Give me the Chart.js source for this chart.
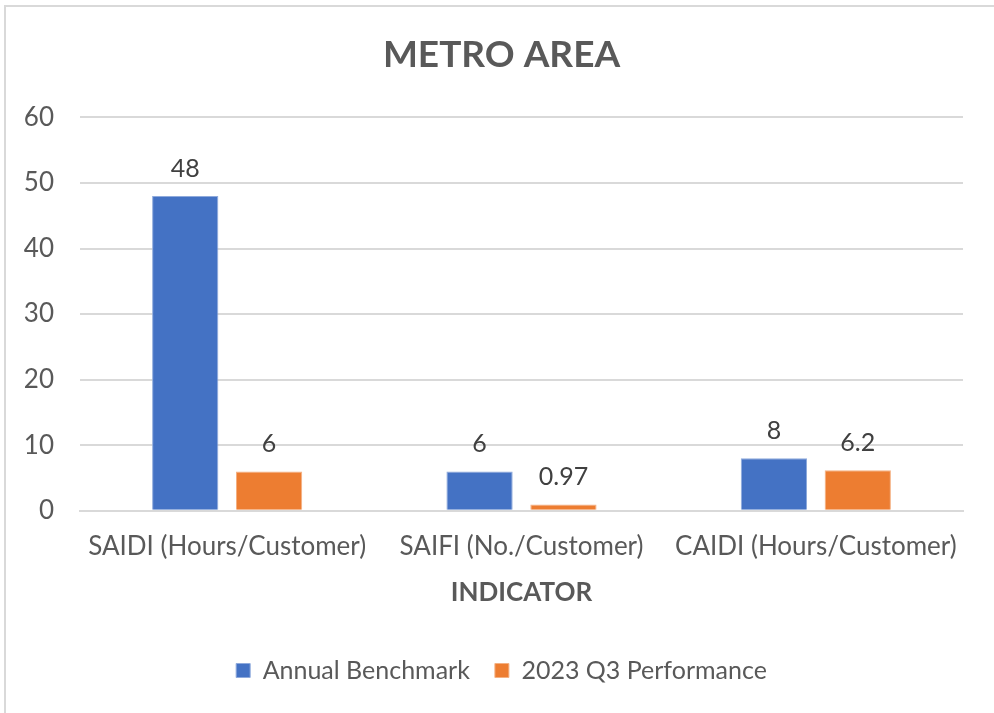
<!DOCTYPE html>
<html>
<head>
<meta charset="utf-8">
<script src="https://cdn.jsdelivr.net/npm/chart.js@4"></script>
<style>
  html, body { margin: 0; padding: 0; background: #fff; }
  #frame {
    position: absolute; left: 4px; top: 5px; width: 1000px; height: 720px;
    border-top: 2px solid #d9d9d9; border-left: 2px solid #d9d9d9;
  }
  #wrap { position: absolute; left: 0; top: 0; width: 994px; height: 713px; }
</style>
</head>
<body>
<div id="frame"></div>
<div id="wrap"><canvas id="chart"></canvas></div>
<script>
const categories = [ 'SAIDI (Hours/Customer)', 'SAIFI (No./Customer)', 'CAIDI (Hours/Customer)' ];
const benchmark = [ 48, 6, 8 ];
const q3Performance = [ 6, 0.97, 6.2 ];
const yTicks = [ 0, 10, 20, 30, 40, 50, 60 ];

const FONT = "Lato, 'Open Sans', sans-serif";
const TEXT = '#595959';

// Draw the value above each bar, like Excel data labels.
const valueLabels = {
	id: 'valueLabels',
	afterDatasetsDraw( chart ) {
		const ctx = chart.ctx;
		ctx.save();
		ctx.font = `25px ${ FONT }`;
		ctx.fillStyle = '#404040';
		ctx.textAlign = 'center';
		ctx.textBaseline = 'bottom';
		chart.data.datasets.forEach( ( ds, i ) => {
			chart.getDatasetMeta( i ).data.forEach( ( bar, j ) => {
				ctx.fillText( String( ds.data[ j ] ), bar.x, bar.y - 15 );
			} );
		} );
		ctx.restore();
	},
};

// Title and legend sit a little right of the plot centre in the original.
const nudgeBoxes = {
	id: 'nudgeBoxes',
	afterLayout( chart ) {
		if ( chart.titleBlock ) {
			chart.titleBlock.left += 20;
			chart.titleBlock.right += 20;
		}
		if ( chart.legend ) {
			chart.legend.left += 20;
			chart.legend.right += 20;
		}
	},
};

new Chart( document.getElementById( 'chart' ), {
	type: 'bar',
	data: {
		labels: categories,
		datasets: [
			{
				label: 'Annual Benchmark',
				data: benchmark,
				backgroundColor: '#4472c4',
				borderColor: '#8faadc',
				borderWidth: 1,
				categoryPercentage: 0.57,
				barPercentage: 0.79,
			},
			{
				label: '2023 Q3 Performance',
				data: q3Performance,
				backgroundColor: '#ed7d31',
				borderColor: '#f4b183',
				borderWidth: 1,
				categoryPercentage: 0.57,
				barPercentage: 0.79,
			},
		],
	},
	options: {
		responsive: true,
		maintainAspectRatio: false,
		animation: false,
		layout: { padding: { top: 33, left: 0, right: 31, bottom: 20 } },
		plugins: {
			title: {
				display: true,
				text: 'METRO AREA',
				color: TEXT,
				font: { family: FONT, size: 37, weight: 'bold' },
				padding: { top: 0, bottom: 40 },
			},
			legend: {
				position: 'bottom',
				labels: {
					color: TEXT,
					font: { family: FONT, size: 25 },
					boxWidth: 14,
					boxHeight: 14,
					padding: 25,
				},
			},
			tooltip: { enabled: false },
		},
		scales: {
			x: {
				grid: { display: false },
				border: { display: true, color: '#d9d9d9', width: 2 },
				ticks: { color: TEXT, font: { family: FONT, size: 26, lineHeight: 1 }, padding: 15 },
				title: {
					display: true,
					text: 'INDICATOR',
					color: TEXT,
					font: { family: FONT, size: 26, weight: 'bold' },
					padding: { top: 2, bottom: 25 },
				},
			},
			y: {
				min: 0,
				max: 60,
				afterBuildTicks( axis ) {
					axis.ticks = yTicks.map( ( v ) => ( { value: v } ) );
				},
				afterFit( axis ) {
					axis.width = 80;
				},
				grid: { color: '#d9d9d9', lineWidth: 2, drawTicks: false },
				border: { display: false },
				ticks: { color: TEXT, font: { family: FONT, size: 26 }, padding: 26 },
			},
		},
	},
	plugins: [ valueLabels, nudgeBoxes ],
} );
</script>
</body>
</html>
